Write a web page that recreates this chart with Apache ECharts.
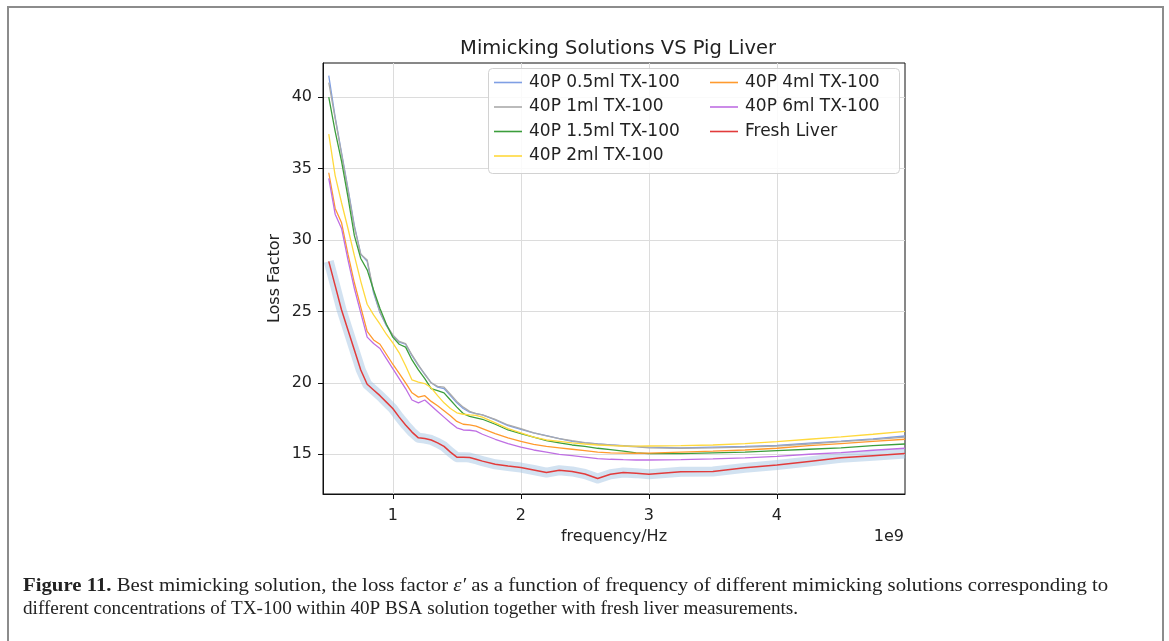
<!DOCTYPE html>
<html><head><meta charset="utf-8">
<script src="https://cdn.jsdelivr.net/npm/echarts@6/dist/echarts.min.js"></script>
<style>html,body{margin:0;padding:0;background:#fff}#c{width:1169px;height:641px}</style>
</head><body><div id="c"></div>
<script>
// frequency in GHz (axis offset 1e9)
const freqGHz = [0.50,0.55,0.60,0.65,0.70,0.75,0.80,0.85,0.90,0.95,1.00,1.05,1.10,1.15,1.20,1.25,1.30,1.35,1.40,1.45,1.50,1.55,1.60,1.65,1.70,1.80,1.90,2.00,2.10,2.20,2.30,2.40,2.50,2.60,2.70,2.80,2.90,3.00,3.25,3.50,3.75,4.00,4.25,4.50,4.75,5.00];
const xTicks = [1,2,3,4];
const yTicks = [15,20,25,30,35,40];
const names = ['40P 0.5ml TX-100','40P 1ml TX-100','40P 1.5ml TX-100','40P 2ml TX-100','40P 4ml TX-100','40P 6ml TX-100','Fresh Liver'];

const tx05 = [41.5,38.6,36.1,33.6,31.0,29.0,28.5,26.3,24.9,24.0,23.3,22.85,22.7,21.9,21.2,20.6,20.0,19.7,19.6,19.1,18.6,18.2,17.95,17.85,17.75,17.4,17.0,16.75,16.5,16.3,16.1,15.9,15.8,15.72,15.65,15.6,15.55,15.5,15.45,15.5,15.55,15.62,15.78,15.92,16.08,16.28];
const tx1 = [41.0,38.5,36.0,33.5,30.9,29.0,28.6,26.4,24.95,24.05,23.35,22.9,22.75,21.95,21.25,20.6,20.0,19.75,19.7,19.2,18.7,18.3,18.0,17.85,17.75,17.45,17.05,16.8,16.5,16.28,16.1,15.95,15.82,15.72,15.65,15.58,15.52,15.45,15.42,15.45,15.5,15.58,15.72,15.88,16.02,16.2];
const tx15 = [40.0,37.6,35.5,33.0,30.3,28.7,27.9,26.5,25.2,24.1,23.2,22.7,22.5,21.6,20.9,20.3,19.6,19.45,19.3,18.8,18.3,17.85,17.65,17.55,17.45,17.1,16.7,16.45,16.2,15.95,15.8,15.65,15.55,15.42,15.32,15.22,15.1,15.05,15.05,15.1,15.15,15.25,15.35,15.45,15.6,15.72];
const tx2 = [37.4,34.5,32.6,30.8,28.9,27.1,25.5,24.75,24.1,23.4,22.8,22.1,21.2,20.2,20.05,19.95,19.65,19.1,18.6,18.2,17.9,17.8,17.75,17.72,17.6,17.2,16.8,16.5,16.2,16.0,15.9,15.8,15.72,15.65,15.6,15.58,15.57,15.58,15.6,15.65,15.75,15.88,16.05,16.22,16.4,16.6];
const tx4 = [34.7,32.2,31.2,29.0,27.0,25.3,23.6,23.0,22.7,22.0,21.3,20.66,20.0,19.3,19.0,19.1,18.7,18.4,18.05,17.7,17.3,17.1,17.05,16.97,16.8,16.45,16.15,15.9,15.7,15.55,15.45,15.35,15.25,15.15,15.1,15.08,15.07,15.08,15.15,15.22,15.3,15.42,15.6,15.75,15.9,16.05];
const tx6 = [34.3,31.8,30.8,28.6,26.6,24.9,23.2,22.75,22.4,21.7,21.0,20.3,19.6,18.8,18.6,18.8,18.4,18.0,17.6,17.2,16.85,16.7,16.68,16.62,16.4,16.05,15.75,15.5,15.3,15.15,15.0,14.9,14.8,14.7,14.65,14.62,14.6,14.6,14.62,14.68,14.75,14.85,15.0,15.12,15.28,15.42];
const liver = [28.5,26.8,25.1,23.7,22.3,20.9,19.9,19.5,19.1,18.65,18.2,17.6,17.05,16.55,16.15,16.1,16.0,15.8,15.55,15.15,14.8,14.8,14.77,14.65,14.52,14.3,14.18,14.07,13.9,13.72,13.88,13.8,13.62,13.3,13.6,13.72,13.68,13.6,13.78,13.8,14.05,14.25,14.5,14.75,14.9,15.05];

const colors = ['#7f9fe4','#aaaaaa','#3c9e3c','#ffd93d','#ff9a2e','#bf6fe3','#e23b3b'];
const valueSets = [tx05, tx1, tx15, tx2, tx4, tx6, liver];

const pairs = v => freqGHz.map((f, i) => [f, v[i]]);

const series = [{
  name: 'band', type: 'line', data: pairs(liver), symbol: 'none', silent: true,
  lineStyle: {color: 'rgba(165,198,228,0.5)', width: 10, cap: 'butt', join: 'round'},
  z: 1
}];
names.forEach((n, k) => {
  series.push({
    name: n, type: 'line', data: pairs(valueSets[k]), symbol: 'none',
    lineStyle: {color: colors[k], width: k === 6 ? 1.5 : 1.3},
    itemStyle: {color: colors[k]}, z: 2 + k
  });
});

const legendCommon = {
  orient: 'vertical', padding: 0, itemWidth: 28, itemHeight: 1.6, itemGap: 7.5,
  icon: 'rect', selectedMode: false, z: 10,
  textStyle: {fontFamily: 'DejaVu Sans', fontSize: 17, color: '#222', padding: [0,0,0,2]}
};

const chart = echarts.init(document.getElementById('c'), null, {renderer: 'canvas'});
chart.setOption({
  animation: false,
  backgroundColor: '#fff',
  title: {
    text: 'Mimicking Solutions VS Pig Liver', left: 613, top: 34, textAlign: 'center',
    textStyle: {fontFamily: 'DejaVu Sans', fontSize: 19.5, fontWeight: 'normal', color: '#222'}
  },
  grid: {left: 323, top: 63, right: 264, bottom: 147, show: true, borderColor: '#111', borderWidth: 1, backgroundColor: 'transparent'},
  legend: [
    Object.assign({}, legendCommon, {left: 494, top: 74, data: names.slice(0, 4)}),
    Object.assign({}, legendCommon, {left: 710, top: 74, data: names.slice(4)})
  ],
  xAxis: {
    type: 'value', min: 0.455, max: 5.0,
    name: 'frequency/Hz', nameLocation: 'middle', nameGap: 34,
    nameTextStyle: {fontFamily: 'DejaVu Sans', fontSize: 16, color: '#222'},
    axisLine: {show: true, lineStyle: {color: '#111'}},
    axisTick: {show: true, length: 5, lineStyle: {color: '#111'}, customValues: xTicks},
    axisLabel: {fontFamily: 'DejaVu Sans', fontSize: 16, color: '#222', margin: 14, customValues: xTicks, formatter: v => String(v)},
    splitLine: {show: true, lineStyle: {color: '#dcdcdc', width: 1}}
  },
  yAxis: {
    type: 'value', min: 12.22, max: 42.38,
    name: 'Loss Factor', nameLocation: 'middle', nameGap: 40, nameRotate: 90,
    nameTextStyle: {fontFamily: 'DejaVu Sans', fontSize: 16, color: '#222'},
    axisLine: {show: true, lineStyle: {color: '#111'}},
    axisTick: {show: true, length: 5, lineStyle: {color: '#111'}, customValues: yTicks},
    axisLabel: {fontFamily: 'DejaVu Sans', fontSize: 16, color: '#222', margin: 11, customValues: yTicks, formatter: v => String(v)},
    splitLine: {show: true, lineStyle: {color: '#dcdcdc', width: 1}}
  },
  graphic: [
    {type: 'rect', z: 0, silent: true, shape: {x: 8, y: 7, width: 1155, height: 700}, style: {fill: 'none', stroke: '#8c8c8c', lineWidth: 2}},
    {type: 'rect', z: 9, silent: true, shape: {x: 488.5, y: 68.5, width: 411, height: 105, r: 4}, style: {fill: 'rgba(255,255,255,0.85)', stroke: '#d2d2d2', lineWidth: 1}},
    {type: 'text', z: 10, silent: true, x: 904, y: 537, style: {text: '1e9', fill: '#222', font: '16px "DejaVu Sans"', textAlign: 'right', textVerticalAlign: 'middle'}},
    {type: 'text', z: 10, silent: true, x: 23, y: 586, scaleX: 1.094, style: {
      text: '{b|Figure 11.} Best mimicking solution, the loss factor {i|\u03b5\u2032} as a function of frequency of different mimicking solutions corresponding to',
      font: '19px "Liberation Serif"', fill: '#222', textVerticalAlign: 'middle',
      rich: {b: {font: 'bold 19px "Liberation Serif"', fill: '#222'}, i: {font: 'italic 19px "Liberation Serif"', fill: '#222'}}
    }},
    {type: 'text', z: 10, silent: true, x: 23, y: 609, scaleX: 1.01, style: {
      text: 'different concentrations of TX-100 within 40P BSA solution together with fresh liver measurements.',
      font: '19px "Liberation Serif"', fill: '#222', textVerticalAlign: 'middle'
    }}
  ],
  series: series
});
</script></body></html>
